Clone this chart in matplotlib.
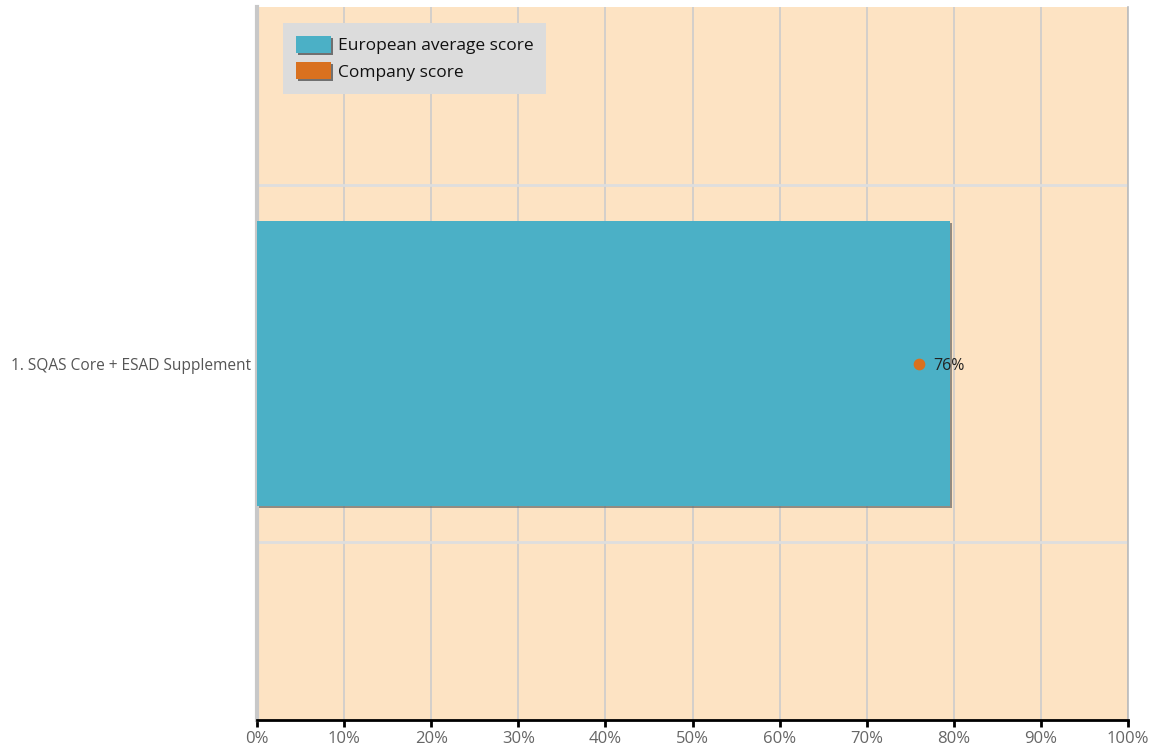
import matplotlib
matplotlib.use("Agg")
import matplotlib.pyplot as plt
import matplotlib.patheffects as pe
from matplotlib.patches import Patch
from matplotlib.ticker import FuncFormatter

plt.rcParams['font.family'] = ['Open Sans', 'DejaVu Sans']

# data
categories = ['1. SQAS Core + ESAD Supplement']
european_avg = [79.6]
company_score = [76]
series_names = ['European average score', 'Company score']

bg_color = '#fde3c3'
bar_color = '#4bb0c6'
dot_color = '#d9711f'

fig = plt.figure(figsize=(11.59, 7.46), dpi=100)
ax = fig.add_axes([257 / 1159, 1 - 720 / 746, 871 / 1159, 713 / 746])
ax.set_facecolor(bg_color)

ypos = list(range(len(categories)))
shadow = [pe.SimplePatchShadow(offset=(1.5, -1.5), shadow_rgbFace='#666666', alpha=0.7), pe.Normal()]

bars = ax.barh(ypos, european_avg, height=0.8, color=bar_color, zorder=3,
               label=series_names[0])
for b in bars:
    b.set_path_effects(shadow)

ax.scatter(company_score, ypos, s=55, color=dot_color, zorder=5, label=series_names[1])
for x, y in zip(company_score, ypos):
    ax.annotate(f'{x:.0f}%', (x, y), xytext=(10, 0), textcoords='offset points',
                va='center_baseline', ha='left', fontsize=11.5, color='#222222', zorder=6)

ax.set_xlim(0, 100)
ax.set_ylim(len(categories), -1)
ax.set_xticks(range(0, 101, 10))
ax.xaxis.set_major_formatter(FuncFormatter(lambda v, p: f'{v:.0f}%'))
ax.set_yticks(ypos)
ax.set_yticklabels(categories)

# separators between category bands
for y in [-0.5, 0.5]:
    ax.axhline(y, color='#dedede', lw=2, zorder=1)
ax.grid(axis='x', color='#cccccc', lw=1.2, zorder=1)
ax.set_axisbelow(True)

ax.spines['top'].set_visible(False)
ax.spines['right'].set_color('#bbbbbb')
ax.spines['right'].set_linewidth(1.2)
ax.spines['left'].set_color('#c8c8c8')
ax.spines['left'].set_linewidth(3)
ax.spines['bottom'].set_color('black')
ax.spines['bottom'].set_linewidth(2)

ax.tick_params(axis='x', direction='out', length=5, width=2, color='black',
               labelsize=12, labelcolor='#666666', pad=3)
ax.tick_params(axis='y', length=0, labelsize=11.2, labelcolor='#555555', pad=4)

# legend with shadowed square patches
handles = [Patch(facecolor=bar_color, edgecolor='none', label=series_names[0]),
           Patch(facecolor=dot_color, edgecolor='none', label=series_names[1])]
leg = ax.legend(handles=handles, loc='upper left', bbox_to_anchor=(0.03, 0.978),
                frameon=True, fancybox=False, fontsize=12.5, handlelength=2.0,
                handleheight=1.15, handletextpad=0.4, labelspacing=0.45,
                borderpad=0.75, borderaxespad=0)
leg.get_frame().set_facecolor('#dcdcdc')
leg.get_frame().set_edgecolor('none')
leg.get_frame().set_alpha(1)
for h in leg.legend_handles:
    h.set_path_effects([pe.SimplePatchShadow(offset=(1.5, -1.5), shadow_rgbFace='#555555', alpha=0.8), pe.Normal()])
for t in leg.get_texts():
    t.set_color('#111111')

fig.savefig('out.png', dpi=100)
